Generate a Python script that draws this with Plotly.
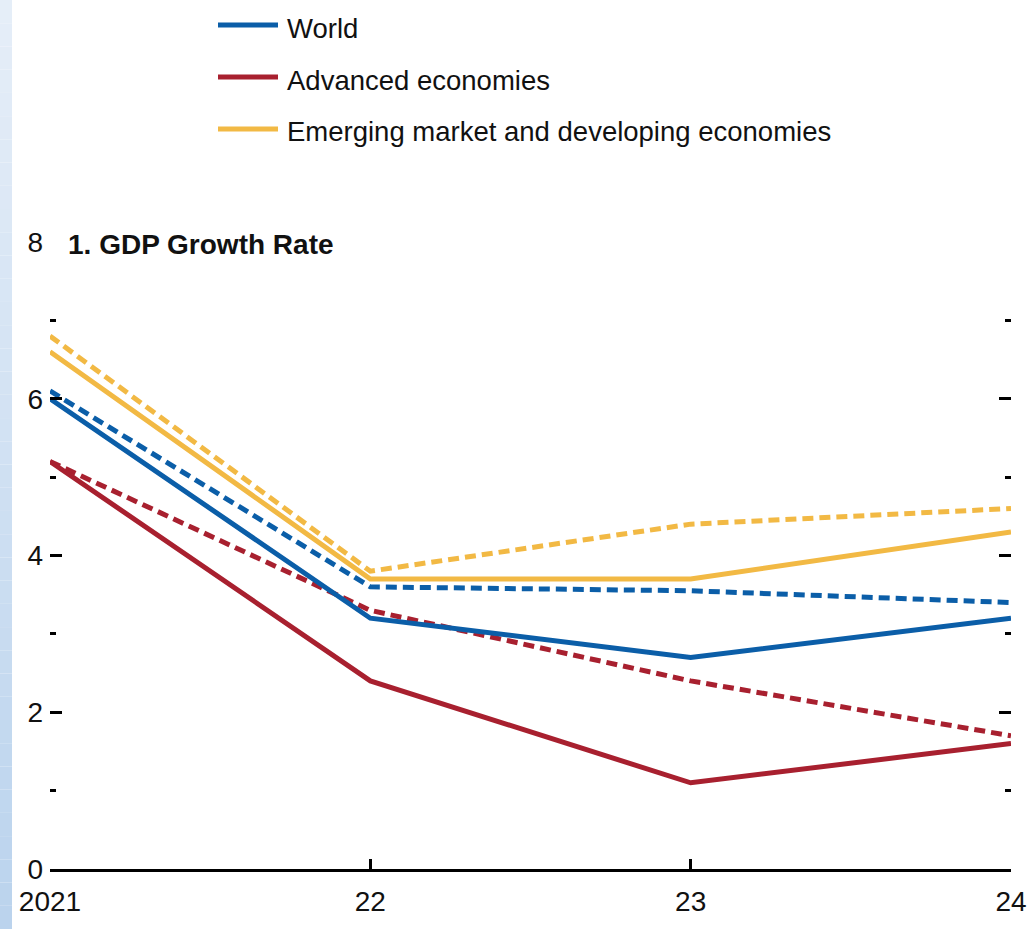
import plotly.graph_objects as go

years = [2021, 2022, 2023, 2024]
year_labels = ["2021", "22", "23", "24"]
series_names = ["World", "Advanced economies", "Emerging market and developing economies"]
series_colors = ["#0b5ea8", "#a8202f", "#f2b944"]

# current forecast (solid)
world_now = [6.0, 3.2, 2.7, 3.2]
adv_now = [5.2, 2.4, 1.1, 1.6]
emde_now = [6.6, 3.7, 3.7, 4.3]
# previous forecast (dashed)
world_prev = [6.1, 3.6, 3.55, 3.4]
adv_prev = [5.2, 3.3, 2.4, 1.7]
emde_prev = [6.8, 3.8, 4.4, 4.6]

y_ticks = [0, 2, 4, 6, 8]
title_text = "<b>1. GDP Growth Rate</b>"

FONT = "Liberation Sans, Arial, sans-serif"

fig = go.Figure()
solid = [world_now, adv_now, emde_now]
dashed = [world_prev, adv_prev, emde_prev]
for vals, name, col in zip(dashed, series_names, series_colors):
    fig.add_trace(go.Scatter(x=years, y=vals, mode="lines", name=name + " (previous)",
                             line=dict(color=col, width=5, dash="11px,6px"),
                             showlegend=False, cliponaxis=False, hoverinfo="skip"))
for vals, name, col in zip(solid, series_names, series_colors):
    fig.add_trace(go.Scatter(x=years, y=vals, mode="lines", name=name,
                             line=dict(color=col, width=5),
                             showlegend=False, cliponaxis=False))

# geometry helpers (plot area in px)
L, R, T, B = 50, 16, 242, 60
W, H = 1027, 929
pw, ph = W - L - R, H - T - B

def px_x(x):
    return (x - L) / pw

def px_y(y):
    return (H - B - y) / ph

shapes = []
annotations = []
# left gradient strip
n = 40
for i in range(n):
    y0 = i * H / n
    y1 = (i + 1) * H / n
    t = (i + 0.5) / n
    c0 = (230, 238, 248)
    c1 = (186, 211, 237)
    c = tuple(int(round(c0[k] + (c1[k] - c0[k]) * t)) for k in range(3))
    shapes.append(dict(type="rect", xref="paper", yref="paper",
                       x0=px_x(0), x1=px_x(12), y0=px_y(y1), y1=px_y(y0),
                       fillcolor="rgb(%d,%d,%d)" % c, line=dict(width=0), layer="below"))

# manual legend
leg_y = [25, 77, 129]
for name, col, yy in zip(series_names, series_colors, leg_y):
    shapes.append(dict(type="line", xref="paper", yref="paper",
                       x0=px_x(218), x1=px_x(278), y0=px_y(yy), y1=px_y(yy),
                       line=dict(color=col, width=5)))
    annotations.append(dict(xref="paper", yref="paper", x=px_x(285), y=px_y(yy + 3),
                            text=name, showarrow=False, xanchor="left", yanchor="middle",
                            font=dict(family=FONT, size=27.5, color="#111")))

annotations.append(dict(xref="paper", yref="paper", x=px_x(66), y=px_y(244),
                        text=title_text, showarrow=False, xanchor="left", yanchor="middle",
                        font=dict(family=FONT, size=28, color="#111")))

fig.update_layout(
    width=W, height=H,
    margin=dict(l=L, r=R, t=T, b=B, autoexpand=False),
    paper_bgcolor="white", plot_bgcolor="white",
    font=dict(family=FONT, size=28, color="#111"),
    shapes=shapes, annotations=annotations,
    xaxis=dict(range=[2021, 2024], tickvals=years, ticktext=year_labels,
               showgrid=False, zeroline=False, showline=True, linecolor="black", linewidth=2.5,
               ticks="inside", ticklen=10, tickwidth=2.5, tickcolor="black", automargin=False,
               tickfont=dict(size=28), ticklabelstandoff=6, ticklabeloverflow="allow"),
    yaxis=dict(range=[0, 8], tickvals=y_ticks, showgrid=False, zeroline=False, showline=False,
               mirror="ticks", automargin=False,
               ticks="inside", ticklen=12, tickwidth=3, tickcolor="black",
               tickfont=dict(size=28), ticklabelstandoff=6,
               minor=dict(dtick=1, ticks="inside", ticklen=6, tickwidth=3, tickcolor="black")),
    showlegend=False,
)

fig.write_html("out.html", config={"displayModeBar": False},
               post_script="document.body.style.margin='0';document.body.style.overflow='hidden';")
